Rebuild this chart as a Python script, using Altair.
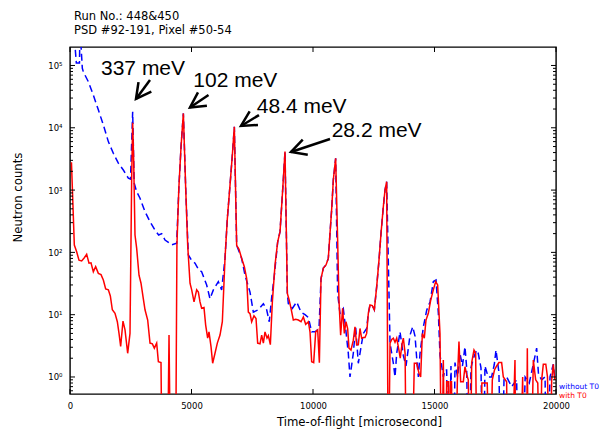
import altair as alt
import pandas as pd

# ---------------- data ----------------
red_t = [60, 178, 274, 370, 480, 590, 686, 782, 864, 960, 1056, 1166, 1276, 1372, 1468, 1578,
         1660, 1742, 1852, 1948, 2017, 2085, 2181, 2264, 2373, 2469, 2538, 2579, 2620, 2675,
         2744, 2840, 2922, 3018, 3087, 3197, 3293, 3389, 3471, 3567, 3636, 3745, 3800, 3900,
         4000, 4075, 4150, 4250, 4340, 4400, 4480, 4570, 4665, 4761, 4843, 4939, 5008, 5104,
         5213, 5282, 5350, 5418, 5514, 5583, 5665, 5720, 5803, 5871, 5967, 6063, 6173, 6269,
         6379, 6475, 6585, 6681, 6763, 6859, 6955, 7065, 7175, 7271, 7339, 7408, 7476, 7572,
         7655, 7723, 7819, 7888, 7957, 8025, 8108, 8162, 8245, 8327, 8437, 8547, 8643, 8739,
         8848, 8944, 9013, 9095, 9191, 9287, 9397, 9507, 9603, 9699, 9809, 9877, 9946, 10028,
         10111, 10193, 10262, 10330, 10426, 10536, 10630, 10699, 10767, 10836, 10932, 11014,
         11069, 11138, 11220, 11289, 11357, 11426, 11481, 11563, 11659, 11728, 11796, 11865,
         11934, 12002, 12071, 12140, 12208, 12277, 12345, 12441, 12524, 12620, 12716, 12798,
         12894, 12963, 13031, 13100, 13170, 13240, 13307, 13375, 13444, 13530, 13590, 13660,
         13718, 13790, 13850, 13950, 14050, 14170, 14266, 14362, 14430, 14500, 14580, 14650,
         14746, 14842, 14952, 15048, 15130, 15226, 15295, 15363, 15432, 15500, 15568, 15600,
         15650, 15700, 15740, 15850, 15940, 16007, 16076, 16186, 16254, 16323, 16391, 16460,
         16530, 16625, 16693, 16762, 16850, 16950, 17077, 17170, 17283, 17379, 17470, 17558,
         17650, 17763, 17832, 17969, 18010, 18150, 18312, 18353, 18500, 18628, 18670, 18780,
         18820, 18861, 18960, 19067, 19163, 19250, 19342, 19410, 19478, 19580, 19650, 19753,
         19822, 19890, 19950]
red_v = [2800, 131, 102, 75, 73, 82, 93, 67, 68, 49, 59, 46, 44, 36, 26, 25,
         20, 12, 10.5, 7.7, 5.0, 3.1, 7.9, 5.7, 2.4, 5, 1550, 12000, 3000, 190,
         116, 43, 32, 18, 12, 8.2, 3.5, 3.4, 2.9, 3.5, 1.76, 1.7, 0, 0,
         0, 4.7, 0, 0, 0, 130, 1100, 5000, 17000, 1070, 130, 32, 25, 16,
         25, 23, 16, 12.7, 13, 6.8, 4.2, 5.3, 3.07, 1.66, 2.4, 3.5, 4.7, 7.7,
         80, 350, 1200, 3650, 10400, 130, 112, 80, 59, 38, 11, 10.4, 7.7, 9.6,
         8.7, 3.5, 3.4, 4.7, 3.5, 5.3, 4.2, 4.6, 3.3, 16, 63, 148, 215, 830,
         4160, 22, 17.5, 12.6, 8.2, 8.4, 8.2, 7.7, 9.2, 7, 7.7, 5.3, 1.76, 1.7,
         5.3, 5.7, 1.7, 38, 56, 63, 80, 200, 480, 1450, 3240, 158,
         17, 4.7, 12.6, 5, 7.7, 6, 2.9, 2.7, 3.9, 6.4, 3.3, 3.3,
         6, 4.2, 4.3, 4.3, 5, 10.5, 14.3, 14, 12, 28, 75, 200,
         540, 1000, 1360, 0, 3.5, 4, 4.2, 3.6, 4.2, 2.8, 2.0, 3.3,
         4.2, 2.4, 0, 0, 0, 1.66, 1.66, 1.15, 1.0, 5, 4.2, 8.2,
         10.5, 17, 25, 34, 30, 5, 0, 1.87, 0, 0.84, 0.84, 0,
         0.84, 0.84, 0, 0, 0.84, 3.7, 0.84, 0.84, 1.46, 1.1, 0.9, 0,
         1.7, 2.7, 2.4, 0, 0, 0.8, 0.8, 0.8, 0, 0.9, 1.3, 1.5,
         1.7, 1.7, 1.0, 0.84, 0, 0, 1.87, 0, 0, 1.0, 0, 0,
         2.9, 0, 0, 1.87, 0.9, 0.8, 0, 0.9, 1.6, 1.6, 1.0, 0,
         0.9, 1.6, 0.9]

blue_t = [150, 260, 390, 410, 507, 549, 754, 960, 1166, 1372, 1578, 1783, 1989, 2195, 2401,
          2490, 2579, 2640, 2740, 2881, 3087, 3293, 3498, 3650, 3773, 3910, 4050, 4184, 4390,
          4480, 4570, 4665, 4761, 4870, 5000, 5145, 5300, 5418, 5624, 5761, 5899, 6104, 6241,
          6379, 6475, 6585, 6681, 6763, 6859, 7065, 7202, 7408, 7545, 7751, 7957, 8094, 8200,
          8300, 8410, 8547, 8643, 8739, 8848, 8944, 8985, 9150, 9328, 9507, 9672, 9809, 9946,
          10083, 10248, 10330, 10426, 10536, 10630, 10699, 10767, 10836, 10932, 11014, 11110,
          11247, 11344, 11453, 11522, 11659, 11755, 11865, 11975, 12071, 12208, 12277, 12345,
          12441, 12524, 12620, 12716, 12798, 12894, 12963, 13031, 13170, 13307, 13375, 13444,
          13581, 13718, 13828, 13924, 13993, 14103, 14200, 14268, 14336, 14405, 14542, 14679,
          14816, 14953, 15063, 15159, 15228, 15296, 15365, 15431, 15500, 15568, 15678, 15780,
          15843, 15950, 16048, 16150, 16254, 16323, 16419, 16500, 16600, 16734, 16800, 16913,
          17000, 17077, 17210, 17350, 17462, 17530, 17650, 17763, 17860, 17969, 18175, 18381,
          18460, 18600, 18730, 18900, 19050, 19204, 19280, 19410, 19550, 19620, 19753, 19890,
          19960]
blue_v = [400000, 110000, 110000, 400000, 90000, 79000, 55000, 33500, 19400, 11100, 6000, 3900,
          2700, 2100, 1550, 1500, 18000, 1300, 950, 740, 450, 310, 227, 190, 200, 158, 145, 132,
          140, 1100, 5000, 17000, 1070, 91, 75, 67, 52, 49, 30, 18, 25, 34, 25,
          80, 350, 1200, 3650, 10400, 130, 80, 43, 23, 11, 12, 15, 12, 7.7,
          19, 43, 148, 215, 830, 4160, 22, 15, 12.6, 16, 11, 10, 9, 5.3,
          5.3, 6, 38, 56, 63, 80, 200, 480, 1450, 3240, 22, 10.5,
          12.5, 6, 2.4, 1.0, 2.4, 6.4, 1.66, 3, 5, 6, 10.5, 14.3,
          14, 12, 28, 75, 200, 540, 1000, 1360, 3.5, 1.66, 1.0, 2.4,
          5.3, 2.2, 1.5, 2.9, 4.7, 6.4, 4.5, 2, 1.0, 2.4, 6.4, 11.8,
          16, 34, 36, 10.5, 2.2, 1.5, 1.0, 1.3, 1.3, 0, 1.5, 0,
          1.7, 1.0, 2.4, 1.5, 3.07, 1.4, 0, 1.4, 2.0, 2.7, 2.4, 1.4,
          0, 1.5, 1.0, 1.0, 1.6, 2.7, 1.2, 0, 0.9, 1.0, 0.7, 0.9,
          0, 0, 1.0, 0.8, 1.5, 2.9, 1.1, 0.9, 1.0, 0, 1.0, 1.6,
          0.9]

series_names = ["without T0", "with T0"]
series_colors = ["#0000ff", "#ff0000"]

# peak annotations (data coordinates: time, counts)
ann_labels = ["337 meV", "102 meV", "48.4 meV", "28.2 meV"]
ann_t = [1276, 5074, 7683, 10769]
ann_v = [70400, 45700, 17100, 7200]
arrow_tail_t = [3292, 5700, 7777, 10700]
arrow_tail_v = [58500, 33600, 16000, 6610]
arrow_tip_t = [2716, 4938, 7037, 9095]
arrow_tip_v = [29000, 21200, 10700, 4090]
arrow_angle = [126.4, 146.0, 148.6, 161.6]

x_ticks = [0, 5000, 10000, 15000, 20000]
y_major = [1, 10, 100, 1000, 10000, 100000]
y_major_labels = ["10⁰", "10¹", "10²", "10³", "10⁴", "10⁵"]
y_minor = [0.6, 0.7, 0.8, 0.9,
           2, 3, 4, 5, 6, 7, 8, 9,
           20, 30, 40, 50, 60, 70, 80, 90,
           200, 300, 400, 500, 600, 700, 800, 900,
           2000, 3000, 4000, 5000, 6000, 7000, 8000, 9000,
           20000, 30000, 40000, 50000, 60000, 70000, 80000, 90000]

title_lines = ["Run No.: 448&450", "PSD #92-191, Pixel #50-54"]

# ---------------- chart ----------------
W, H = 486, 347
FLOOR = 0.01  # zero counts drop below the log axis (clipped)

blue_df = pd.DataFrame({"t": blue_t, "v": [v if v > 0 else FLOOR for v in blue_v]})
red_df = pd.DataFrame({"t": red_t, "v": [v if v > 0 else FLOOR for v in red_v]})

x_scale = alt.Scale(domain=[0, 20000], nice=False, zero=False)
y_scale = alt.Scale(type="log", domain=[0.533, 198000], nice=False)

label_expr = " : ".join(f"datum.value == {v} ? '{lab}'" for v, lab in zip(y_major, y_major_labels)) + " : ''"

x_axis = alt.Axis(title="Time-of-flight [microsecond]", values=x_ticks, format="d",
                  grid=False, ticks=False, domain=False, labelFlush=False,
                  labelPadding=7, labelFontSize=8.5, labelFont="DejaVu Sans",
                  labelColor="black", titleFont="DejaVu Sans", titleFontSize=11.7,
                  titleFontWeight="normal", titleColor="black",
                  titleX=289, titleY=31, titleBaseline="alphabetic")
y_axis = alt.Axis(title="Neutron counts", values=y_major, labelExpr=label_expr,
                  grid=False, ticks=False, domain=False, labelFlush=False,
                  labelPadding=8, labelFontSize=8.5, labelFont="DejaVu Sans",
                  labelColor="black", titleFont="DejaVu Sans", titleFontSize=11.7,
                  titleFontWeight="normal", titleColor="black",
                  titleX=-48.5, titleY=150, titleBaseline="alphabetic", titleAngle=270)

X = alt.X("t:Q", scale=x_scale, axis=x_axis)
Y = alt.Y("v:Q", scale=y_scale, axis=y_axis)

blue_line = alt.Chart(blue_df).mark_line(
    color=series_colors[0], strokeWidth=1.5, strokeDash=[7, 4], clip=True
).encode(x=X, y=Y)

red_line = alt.Chart(red_df).mark_line(
    color=series_colors[1], strokeWidth=1.5, clip=True
).encode(x=X, y=Y)

ann_df = pd.DataFrame({"t": ann_t, "v": ann_v, "label": ann_labels})
ann_text = alt.Chart(ann_df).mark_text(
    font="Liberation Sans", fontSize=21, align="left", baseline="alphabetic", color="black"
).encode(x=X, y=Y, text="label:N")

arr_df = pd.DataFrame({"t": arrow_tail_t, "v": arrow_tail_v,
                       "t1": arrow_tip_t, "v1": arrow_tip_v, "ang": arrow_angle})
shafts = alt.Chart(arr_df).mark_rule(color="black", strokeWidth=2.5).encode(
    x=X, y=Y, x2=alt.X2("t1:Q"), y2=alt.Y2("v1:Q"))
ARROW_HEAD = "M -0.883 -0.469 L 0 0 L -0.883 0.469"
heads = alt.Chart(arr_df).mark_point(
    shape=ARROW_HEAD, size=1156, filled=False, strokeWidth=2.5, color="black", opacity=1
).encode(x=alt.X("t1:Q", scale=x_scale, axis=x_axis),
         y=alt.Y("v1:Q", scale=y_scale, axis=y_axis),
         angle=alt.Angle("ang:Q", scale=None))

ymaj_df = pd.DataFrame({"v": y_major})
ymin_df = pd.DataFrame({"v": y_minor})
xt_df = pd.DataFrame({"t": x_ticks})
tick_style = dict(color="black", strokeWidth=1)
ticks = [
    alt.Chart(ymaj_df).mark_rule(**tick_style).encode(y=Y, x=alt.value(0), x2=alt.value(5)),
    alt.Chart(ymaj_df).mark_rule(**tick_style).encode(y=Y, x=alt.value(W - 5), x2=alt.value(W)),
    alt.Chart(ymin_df).mark_rule(**tick_style).encode(y=Y, x=alt.value(0), x2=alt.value(3)),
    alt.Chart(ymin_df).mark_rule(**tick_style).encode(y=Y, x=alt.value(W - 3), x2=alt.value(W)),
    alt.Chart(xt_df).mark_rule(**tick_style).encode(x=X, y=alt.value(H), y2=alt.value(H - 5)),
    alt.Chart(xt_df).mark_rule(**tick_style).encode(x=X, y=alt.value(0), y2=alt.value(5)),
]

title1 = alt.Chart().mark_text(text=title_lines[0], font="DejaVu Sans", fontSize=11.5,
                               align="left", baseline="alphabetic", color="black").encode(
    x=alt.value(4), y=alt.value(-27))
title2 = alt.Chart().mark_text(text=title_lines[1], font="DejaVu Sans", fontSize=11.5,
                               align="left", baseline="alphabetic", color="black").encode(
    x=alt.value(4), y=alt.value(-13))

leg1 = alt.Chart().mark_text(text=series_names[0], font="DejaVu Sans", fontSize=7.5,
                             align="left", baseline="alphabetic", color=series_colors[0]).encode(
    x=alt.value(W + 3), y=alt.value(341.7))
leg2 = alt.Chart().mark_text(text=series_names[1], font="DejaVu Sans", fontSize=7.5,
                             align="left", baseline="alphabetic", color=series_colors[1]).encode(
    x=alt.value(W + 3), y=alt.value(350.7))

chart = alt.layer(
    blue_line, red_line, *ticks, shafts, heads, ann_text, title1, title2, leg1, leg2
).properties(
    width=W, height=H,
    padding={"left": 62, "top": 39, "right": 44, "bottom": 36},
    autosize=alt.AutoSizeParams(type="none"),
    background="white",
).configure_view(stroke="black", strokeWidth=1.4)

chart.save("out.html", embed_options={"renderer": "svg", "actions": False})
